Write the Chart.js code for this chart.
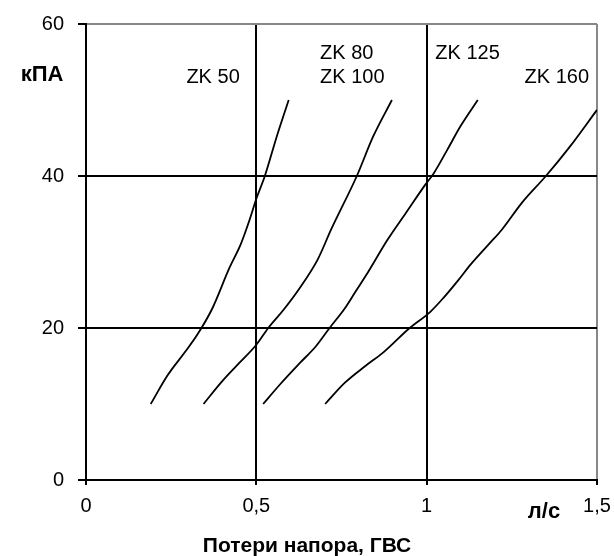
<!DOCTYPE html>
<html>
<head>
<meta charset="utf-8">
<script src="https://cdn.jsdelivr.net/npm/chart.js@4.4.1/dist/chart.umd.min.js"></script>
<style>
  html, body { margin: 0; padding: 0; background: #fff; }
  canvas { display: block; }
</style>
</head>
<body>
<canvas id="lossChart" width="614" height="556"></canvas>
<script>
// Flow (л/с) and pressure loss (кПА)
const zk50Flow = [0.19, 0.24, 0.29, 0.325, 0.37, 0.42, 0.455, 0.48, 0.50, 0.525, 0.56, 0.595];
const zk50Loss = [10, 13.8, 16.8, 19, 22.5, 27.8, 31.1, 34.2, 37, 40, 45.2, 50];

const zk80Flow = [0.345, 0.40, 0.45, 0.50, 0.535, 0.58, 0.628, 0.68, 0.72, 0.795, 0.843, 0.898];
const zk80Loss = [10, 13, 15.4, 17.8, 20, 22.4, 25.3, 29, 33, 40, 45.2, 50];

const zk125Flow = [0.52, 0.57, 0.628, 0.675, 0.715, 0.76, 0.79, 0.83, 0.885, 0.94, 0.995, 1.02, 1.06, 1.10, 1.15];
const zk125Loss = [10, 12.6, 15.4, 17.6, 20, 22.6, 24.7, 27.5, 31.6, 35.2, 38.8, 40.3, 43.4, 46.6, 50];

const zk160Flow = [0.702, 0.76, 0.82, 0.873, 0.95, 1.01, 1.05, 1.093, 1.13, 1.184, 1.22, 1.28, 1.35, 1.421, 1.5];
const zk160Loss = [10, 12.8, 15, 16.8, 20, 22.1, 24, 26.3, 28.4, 31.1, 32.9, 36.5, 40, 43.9, 48.7];

const curveNames = ['ZK 50', 'ZK 80', 'ZK 100', 'ZK 125', 'ZK 160'];
const xTicks = [0, 0.5, 1, 1.5];
const yTicks = [0, 20, 40, 60];

const toPoints = (xs, ys) => xs.map((v, i) => ({ x: v, y: ys[i] }));

const fontFamily = '"Liberation Sans", Arial, sans-serif';
const regularFont = '20px ' + fontFamily;
const boldFont = 'bold 21px ' + fontFamily;
const unitFont = 'bold 22px ' + fontFamily;

// Curve names and axis captions
const captionPlugin = {
    id: 'captions',
    afterDraw(chart) {
        const { ctx, scales: { x, y } } = chart;
        ctx.save();
        ctx.fillStyle = '#000';
        ctx.textBaseline = 'middle';
        ctx.font = regularFont;

        ctx.textAlign = 'center';
        ctx.fillText(curveNames[0], x.getPixelForValue(0.373), y.getPixelForValue(53));
        ctx.textAlign = 'left';
        ctx.fillText(curveNames[1], x.getPixelForValue(0.687), y.getPixelForValue(56.1));
        ctx.fillText(curveNames[2], x.getPixelForValue(0.687), y.getPixelForValue(53));
        ctx.textAlign = 'center';
        ctx.fillText(curveNames[3], x.getPixelForValue(1.12), y.getPixelForValue(56.1));
        ctx.fillText(curveNames[4], x.getPixelForValue(1.382), y.getPixelForValue(53));

        ctx.font = unitFont;
        ctx.fillText('кПА', 42, 75);
        ctx.fillText('л/с', 544, 512);
        ctx.font = boldFont;
        ctx.fillText('Потери напора, ГВС', 307, 546);
        ctx.restore();
    }
};

const lineStyle = {
    borderColor: '#000',
    borderWidth: 1.8,
    pointRadius: 0,
    cubicInterpolationMode: 'monotone',
    fill: false
};

const ctx = document.querySelector('#lossChart').getContext('2d');
new Chart(ctx, {
    type: 'line',
    data: {
        datasets: [
            { label: curveNames[0], data: toPoints(zk50Flow, zk50Loss), ...lineStyle },
            { label: curveNames[1] + ' / ' + curveNames[2], data: toPoints(zk80Flow, zk80Loss), ...lineStyle },
            { label: curveNames[3], data: toPoints(zk125Flow, zk125Loss), ...lineStyle },
            { label: curveNames[4], data: toPoints(zk160Flow, zk160Loss), ...lineStyle }
        ]
    },
    options: {
        responsive: false,
        animation: false,
        layout: { padding: { left: 0, right: 17, top: 24, bottom: 0 } },
        plugins: {
            legend: { display: false },
            tooltip: { enabled: false }
        },
        scales: {
            x: {
                type: 'linear',
                min: xTicks[0],
                max: xTicks[xTicks.length - 1],
                afterBuildTicks: scale => { scale.ticks = xTicks.map(v => ({ value: v })); },
                afterFit: scale => {
                    scale.height = 76;
                    scale.paddingLeft = 0;
                    scale.paddingRight = 0;
                },
                ticks: {
                    color: '#000',
                    padding: 9,
                    maxRotation: 0,
                    font: { family: fontFamily, size: 20 },
                    callback: v => String(v).replace('.', ',')
                },
                grid: {
                    color: c => (c.tick && c.tick.value === 1.5 ? '#888' : '#000'),
                    lineWidth: 2,
                    tickLength: 5,
                    tickColor: '#000'
                },
                border: { display: true, color: '#000', width: 2 }
            },
            y: {
                min: yTicks[0],
                max: yTicks[yTicks.length - 1],
                afterBuildTicks: scale => { scale.ticks = yTicks.map(v => ({ value: v })); },
                afterFit: scale => {
                    scale.width = 86;
                    scale.paddingTop = 0;
                    scale.paddingBottom = 0;
                },
                ticks: {
                    color: '#000',
                    padding: 14,
                    font: { family: fontFamily, size: 20 }
                },
                grid: {
                    color: c => (c.tick && c.tick.value === 60 ? '#888' : '#000'),
                    lineWidth: 2,
                    tickLength: 8,
                    tickColor: '#000'
                },
                border: { display: true, color: '#000', width: 2 }
            }
        }
    },
    plugins: [captionPlugin]
});
</script>
</body>
</html>
